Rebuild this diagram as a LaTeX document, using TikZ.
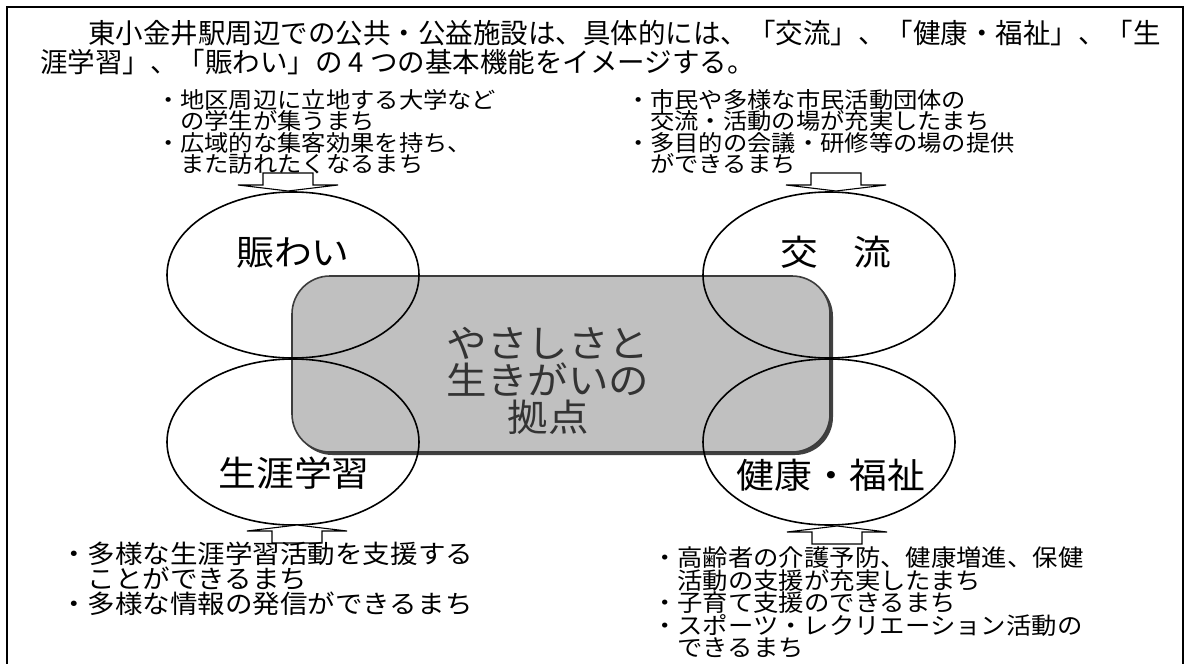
\documentclass[tikz,border=0pt]{standalone}
\usepackage{fontspec}
\newfontfamily\jp{Noto Sans CJK JP}
\newfontfamily\jpw[FakeStretch=1.08]{Noto Sans CJK JP}
\definecolor{boxgray}{RGB}{192,192,192}
\definecolor{boxedge}{RGB}{60,60,60}
\lineskiplimit=-100pt\relax
\tikzset{
  txt/.style={inner sep=0pt, outer sep=0pt, align=left, text=black},
  listtop/.style={txt, anchor=north west, font=\jpw\fontsize{22.5}{21.5}\selectfont},
  listbl/.style={txt, anchor=north west, font=\jpw\fontsize{25.5}{25}\selectfont},
  listbr/.style={txt, anchor=north west, font=\jpw\fontsize{23.5}{22.5}\selectfont},
  titletxt/.style={txt, anchor=west, font=\jp\fontsize{27.5}{30}\selectfont},
  ringlabel/.style={txt, align=center, font=\jpw\fontsize{35}{37}\selectfont},
  hublabel/.style={txt, align=center, text=black!80, font=\jpw\fontsize{37.5}{37}\selectfont},
  ring/.style={draw=black, line width=1.6pt},
  hub/.style={draw=boxedge, fill=boxgray, line width=1.6pt, rounded corners=38pt},
  frame/.style={draw=black, line width=1.6pt},
  pics/blockarrow/.style={code={
    \draw[fill=white, line width=1.1pt, line join=miter]
      (-25,-12) -- (25,-12) -- (25,0) -- (50,0) -- (0,6) -- (-50,0) -- (-25,0) -- cycle;
  }}
}
\begin{document}
\begin{tikzpicture}[x=1pt,y=-1pt]
\useasboundingbox (0,0) rectangle (1189,664);
\fill[white] (0,0) rectangle (1189,664);
% outer frame (bottom edge lies below the picture)
\draw[frame] (7,664) -- (7,7) -- (1183,7) -- (1183,664);

% title
\node[titletxt] (title1) at (88,33) {東小金井駅周辺での公共・公益施設は、具体的には、「交流」、「健康・福祉」、「生};
\node[titletxt] (title2) at (40,62) {涯学習」、「賑わい」の 4 つの基本機能をイメージする。};

% central rounded box with shadow
\fill[black!75, rounded corners=38pt] (294.5,278.5) rectangle (833,455);
\draw[hub] (292,276) rectangle (830,452);
\node[hublabel] (hubtext) at (548,381) {やさしさと\\生きがいの\\拠点};

% four rings
\draw[ring] (293,275) ellipse [x radius=126pt, y radius=83pt];
\draw[ring] (829,275) ellipse [x radius=126pt, y radius=83pt];
\draw[ring] (293,442) ellipse [x radius=126pt, y radius=83pt];
\draw[ring] (829,442) ellipse [x radius=126pt, y radius=83pt];

\node[ringlabel] (nigiwai) at (293,253) {賑わい};
\node[ringlabel] (koryu) at (836,252) {交\hspace{1em}流};
\node[ringlabel] (shogai) at (294,473) {生涯学習};
\node[ringlabel] (kenko) at (831,475) {健康・福祉};

% block arrows
\pic at (288,185) {blockarrow};
\pic at (836,185) {blockarrow};
\pic[rotate=180] at (297,531) {blockarrow};
\pic[rotate=180] at (837,532) {blockarrow};

% lists
\node[listtop] (listtl) at (156,89) {・地区周辺に立地する大学など\\　の学生が集うまち\\・広域的な集客効果を持ち、\\　また訪れたくなるまち};
\node[listtop] (listtr) at (626,89) {・市民や多様な市民活動団体の\\　交流・活動の場が充実したまち\\・多目的の会議・研修等の場の提供\\　ができるまち};
\node[listbl] (listbl) at (60,542) {・多様な生涯学習活動を支援する\\　ことができるまち\\・多様な情報の発信ができるまち};
\node[listbr] (listbr) at (652,547) {・高齢者の介護予防、健康増進、保健\\　活動の支援が充実したまち\\・子育て支援のできるまち\\・スポーツ・レクリエーション活動の\\　できるまち};
\end{tikzpicture}
\end{document}
